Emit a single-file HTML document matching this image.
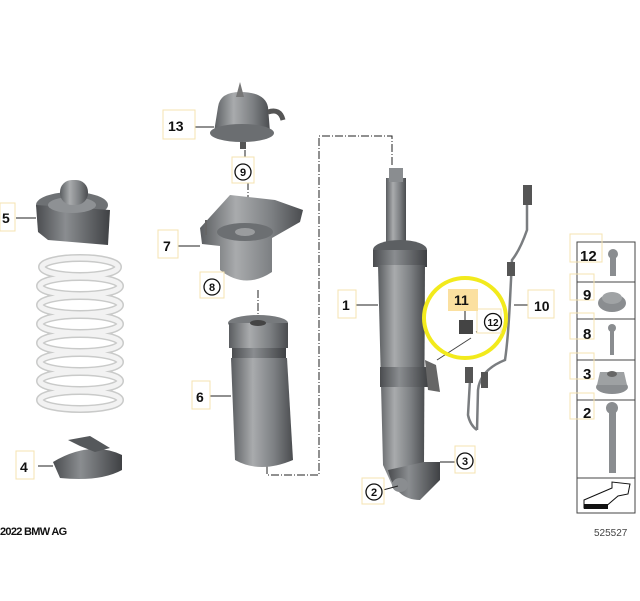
<!DOCTYPE html>
<html><head><meta charset="utf-8"><style>
html,body{margin:0;padding:0;background:#fff;}
svg{display:block;}
text{font-family:"Liberation Sans",Arial,sans-serif;font-weight:bold;fill:#111;}
</style></head><body>
<svg width="640" height="601" viewBox="0 0 640 601" xmlns="http://www.w3.org/2000/svg">
<defs>
<linearGradient id="g" x1="0" x2="1" y1="0" y2="0">
<stop offset="0" stop-color="#5a5d60"/><stop offset="0.35" stop-color="#a9abad"/><stop offset="0.7" stop-color="#7c7f82"/><stop offset="1" stop-color="#4a4c4f"/></linearGradient>
<linearGradient id="gd" x1="0" x2="1" y1="0" y2="0">
<stop offset="0" stop-color="#4a4c4f"/><stop offset="0.4" stop-color="#8a8d90"/><stop offset="1" stop-color="#3f4144"/></linearGradient>
</defs>

<g fill="none" stroke="#222" stroke-width="1" stroke-dasharray="8,2,1,2">
<polyline points="392,165 392,136 319,136 319,475 267,475 267,457"/>
<line x1="258" y1="290" x2="258" y2="320"/>
<line x1="245" y1="150" x2="245" y2="162"/>
<line x1="248" y1="182" x2="248" y2="225"/>
</g>

<!-- part 5 -->
<ellipse cx="72" cy="205" rx="36" ry="13" fill="#6e7174"/>
<path d="M36,205 L38,232 L48,240 L108,245 L110,210 Z" fill="url(#gd)"/>
<ellipse cx="72" cy="205" rx="24" ry="8" fill="#8e9194"/>
<rect x="60" y="180" width="28" height="25" rx="12" fill="url(#g)"/>

<!-- spring -->
<g fill="none" stroke="#c9cac9" stroke-width="8">
<ellipse cx="80" cy="267" rx="38" ry="9"/><ellipse cx="80" cy="286" rx="40" ry="9"/>
<ellipse cx="80" cy="305" rx="40" ry="9"/><ellipse cx="80" cy="324" rx="40" ry="9"/>
<ellipse cx="80" cy="343" rx="40" ry="9"/><ellipse cx="80" cy="362" rx="40" ry="9"/>
<ellipse cx="80" cy="381" rx="40" ry="9"/><ellipse cx="80" cy="400" rx="40" ry="9"/>
</g>
<g fill="none" stroke="#f2f2f2" stroke-width="5">
<ellipse cx="80" cy="267" rx="38" ry="9"/><ellipse cx="80" cy="286" rx="40" ry="9"/>
<ellipse cx="80" cy="305" rx="40" ry="9"/><ellipse cx="80" cy="324" rx="40" ry="9"/>
<ellipse cx="80" cy="343" rx="40" ry="9"/><ellipse cx="80" cy="362" rx="40" ry="9"/>
<ellipse cx="80" cy="381" rx="40" ry="9"/><ellipse cx="80" cy="400" rx="40" ry="9"/>
</g>

<!-- part 4 -->
<path d="M53,462 Q90,440 122,455 L122,470 Q100,482 60,478 Z" fill="url(#gd)"/>
<path d="M68,440 L90,436 L110,448 L95,452 L80,446 Z" fill="#55585b"/>

<!-- part 13 -->
<path d="M218,107 Q220,92 240,92 Q265,92 268,107 L270,132 L214,132 Z" fill="url(#g)"/>
<ellipse cx="242" cy="133" rx="32" ry="9" fill="#6b6e71"/>
<polygon points="236,97 240,82 244,97" fill="#777"/>
<path d="M268,112 Q280,108 283,120" stroke="#555" stroke-width="5" fill="none"/>
<rect x="240" y="142" width="6" height="7" fill="#555"/>

<!-- part 7 -->
<path d="M200,228 L230,195 L275,200 L303,210 L300,222 L272,238 L272,272 Q245,290 220,270 L220,246 L202,244 Z" fill="url(#g)"/>
<ellipse cx="245" cy="232" rx="28" ry="9" fill="#6c6f72"/>
<ellipse cx="245" cy="232" rx="10" ry="4" fill="#9a9c9e"/>
<line x1="206" y1="220" x2="206" y2="235" stroke="#666" stroke-width="2"/>

<!-- part 6 -->
<ellipse cx="258" cy="323" rx="30" ry="8" fill="#777a7d"/>
<rect x="229" y="323" width="59" height="25" fill="url(#g)"/>
<rect x="232" y="348" width="54" height="10" fill="url(#gd)"/>
<path d="M231,358 L287,358 L293,460 Q260,474 235,460 Z" fill="url(#g)"/>
<ellipse cx="258" cy="323" rx="8" ry="3" fill="#444"/>

<!-- shock -->
<rect x="386" y="178" width="20" height="72" fill="url(#g)"/>
<rect x="389" y="168" width="14" height="14" fill="#8a8d90"/>
<ellipse cx="400" cy="250" rx="27" ry="10" fill="#5c5f62"/>
<rect x="373" y="250" width="54" height="17" fill="url(#gd)"/>
<path d="M378,265 L425,265 L424,465 Q400,500 392,485 L383,465 Z" fill="url(#g)"/>
<rect x="380" y="367" width="48" height="20" fill="url(#gd)"/>
<path d="M425,360 L436,365 L440,392 L428,390 Z" fill="#666"/>
<path d="M388,470 Q395,500 420,500 L440,480 L440,462 L424,462 Z" fill="url(#gd)"/>
<ellipse cx="400" cy="485" rx="8" ry="7" fill="#8a8d90"/>

<!-- cable 10 -->
<g fill="none" stroke="#7a7d80" stroke-width="2.5">
<path d="M527,200 L527,230 Q520,250 512,260 L510,300 Q508,340 505,360 Q480,370 478,390 L477,430"/>
<path d="M470,380 L468,415 Q470,425 477,430"/>
</g>
<rect x="523" y="185" width="9" height="20" fill="#555"/>
<rect x="507" y="262" width="8" height="14" fill="#555"/>
<rect x="465" y="367" width="8" height="16" fill="#555"/>
<rect x="481" y="372" width="7" height="16" fill="#555"/>
<rect x="459" y="320" width="14" height="14" fill="#444"/>
<line x1="437" y1="360" x2="471" y2="338" stroke="#444" stroke-width="1"/>

<ellipse cx="465" cy="318" rx="41" ry="40" fill="none" stroke="#f2ea1c" stroke-width="4"/>

<g stroke="#222" stroke-width="1">
<line x1="16" y1="218" x2="36" y2="218"/>
<line x1="192" y1="127" x2="214" y2="127"/>
<line x1="178" y1="246" x2="200" y2="246"/>
<line x1="210" y1="396" x2="231" y2="396"/>
<line x1="38" y1="466" x2="53" y2="466"/>
<line x1="356" y1="305" x2="378" y2="305"/>
<line x1="465" y1="311" x2="465" y2="320"/>
<line x1="486" y1="328" x2="476" y2="332"/>
<line x1="514" y1="305" x2="532" y2="305"/>
<line x1="440" y1="462" x2="456" y2="462"/>
<line x1="383" y1="490" x2="398" y2="486"/>
</g>

<g fill="#fff" stroke="#f5e3b0" stroke-width="1">
<rect x="0" y="203" width="15" height="28"/>
<rect x="163" y="110" width="32" height="29"/>
<rect x="232" y="157" width="22" height="26"/>
<rect x="158" y="230" width="20" height="28"/>
<rect x="200" y="272" width="24" height="26"/>
<rect x="192" y="381" width="18" height="28"/>
<rect x="16" y="451" width="18" height="28"/>
<rect x="338" y="290" width="18" height="28"/>
<rect x="528" y="290" width="26" height="28"/>
<rect x="455" y="446" width="20" height="27"/>
<rect x="362" y="478" width="22" height="26"/>
<rect x="477" y="309" width="24" height="24"/>
</g>
<rect x="448" y="289" width="30" height="22" fill="#fbe0a0"/>

<g font-size="14">
<text x="2" y="223">5</text>
<text x="168" y="131">13</text>
<text x="163" y="251">7</text>
<text x="196" y="402">6</text>
<text x="20" y="472">4</text>
<text x="342" y="310">1</text>
<text x="534" y="311">10</text>
<text x="454" y="305" fill="#3a2a00">11</text>
</g>
<g fill="#fff" stroke="#111" stroke-width="1.3">
<circle cx="243" cy="172" r="8"/><circle cx="212" cy="287" r="8"/>
<circle cx="493" cy="322" r="8.5"/><circle cx="465" cy="461" r="8"/><circle cx="374" cy="492" r="8"/>
</g>
<g font-size="11" text-anchor="middle">
<text x="243" y="176">9</text><text x="212" y="291">8</text>
<text x="493" y="326" font-size="10">12</text><text x="465" y="465">3</text><text x="374" y="496">2</text>
</g>

<g fill="none" stroke="#444" stroke-width="1">
<rect x="577" y="242" width="58" height="271"/>
<line x1="577" y1="282" x2="635" y2="282"/><line x1="577" y1="319" x2="635" y2="319"/>
<line x1="577" y1="360" x2="635" y2="360"/><line x1="577" y1="400" x2="635" y2="400"/>
<line x1="577" y1="478" x2="635" y2="478"/>
</g>
<g fill="none" stroke="#f5e3b0"><rect x="570" y="234" width="32" height="28"/><rect x="570" y="274" width="24" height="26"/><rect x="570" y="313" width="24" height="26"/><rect x="570" y="353" width="24" height="26"/><rect x="570" y="393" width="24" height="26"/></g>
<g font-size="15"><text x="580" y="261">12</text><text x="583" y="300">9</text><text x="583" y="339">8</text><text x="583" y="379">3</text><text x="583" y="418">2</text></g>
<g fill="#8a8d90">
<circle cx="613" cy="254" r="5"/><rect x="610" y="256" width="6" height="20"/>
<ellipse cx="612" cy="303" rx="14" ry="9"/><ellipse cx="612" cy="298" rx="10" ry="6" fill="#a0a3a5"/>
<circle cx="612" cy="328" r="4"/><rect x="610" y="330" width="4" height="25"/>
<ellipse cx="612" cy="387" rx="16" ry="7"/><polygon points="600,372 624,372 627,385 597,385" fill="#9ea1a3"/><ellipse cx="612" cy="374" rx="5" ry="3" fill="#666"/>
<circle cx="612" cy="408" r="6"/><rect x="609" y="410" width="7" height="63"/>
</g>
<path d="M584,500 L612,488 L612,482 L630,484 L628,494 L618,496 L604,508 L584,508 Z" fill="#fff" stroke="#111" stroke-width="1"/>
<rect x="584" y="504" width="24" height="5" fill="#111"/>

<text x="0" y="535" font-size="11" style="letter-spacing:-0.7px">2022 BMW AG</text>
<text x="594" y="536" font-size="10" style="font-weight:normal;fill:#444">525527</text>
</svg>
</body></html>
